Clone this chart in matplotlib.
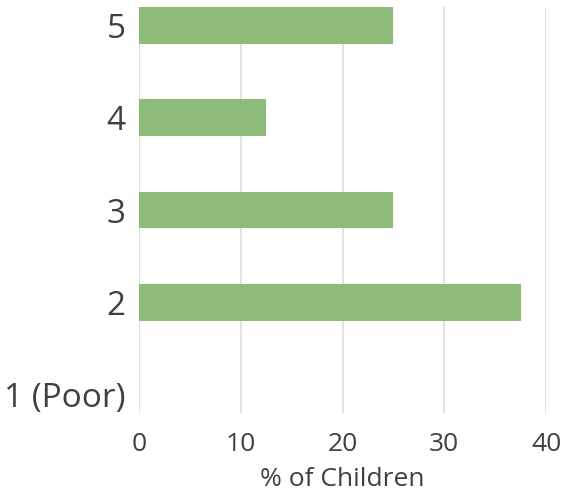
import matplotlib.pyplot as plt
import numpy as np

categories = ["1 (Poor)", "2", "3", "4", "5"]
pct_children = [0, 37.5, 25, 12.5, 25]
x_ticks = [0, 10, 20, 30, 40]

plt.rcParams['font.family'] = ['Open Sans', 'DejaVu Sans']
text_color = "#404040"

fig = plt.figure(figsize=(5.64, 4.94), dpi=100)
ax = fig.add_axes([139 / 564, 1 - 413 / 494, (546 - 139) / 564, (413 - 7) / 494])

y = np.arange(len(categories))
ax.barh(y, pct_children, height=0.4, color="#8cbb7a", zorder=2)

ax.set_xlim(0, 40)
ax.set_ylim(-0.2, 4.2)
ax.set_xticks(x_ticks)
ax.set_xticklabels([str(t) for t in x_ticks], fontsize=19, color=text_color)
ax.set_yticks(y)
ax.set_yticklabels(categories, fontsize=24, color=text_color)
ax.tick_params(axis='both', length=0)
ax.tick_params(axis='x', pad=14)
ax.tick_params(axis='y', pad=9.5)
ax.grid(axis='x', color="#dddddd", linewidth=1.2, zorder=0)
for s in ax.spines.values():
    s.set_visible(False)
ax.set_xlabel("% of Children", fontsize=19, color=text_color, labelpad=7)

fig.savefig("out.png", dpi=100)
